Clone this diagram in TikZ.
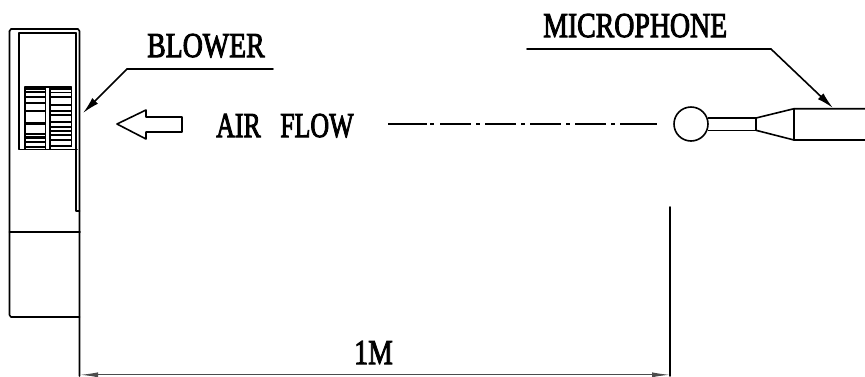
\documentclass[tikz,border=0pt]{standalone}
\usepackage{fontspec}
\setmainfont{Liberation Serif}
\newfontfamily\lblfont[FakeBold=3]{Liberation Serif}
\usetikzlibrary{arrows.meta}
\newcommand{\lbltext}[2][0.795]{\scalebox{#1}[1]{\lblfont #2}}
\tikzset{
  ln/.style={line width=1.6bp,line cap=round,line join=round,draw=black},
  lead/.style={ln,-{Latex[length=17bp,width=8bp]}},
  dim/.style={line width=1.1bp,draw=black!70,{Latex[length=18bp,width=5bp]}-{Latex[length=18bp,width=5bp]}},
  lbl/.style={inner sep=0pt,font=\fontsize{35bp}{35bp}\selectfont},
}
\begin{document}
\begin{tikzpicture}[x=1bp,y=-1bp]
\useasboundingbox (0,0) rectangle (865,376);
% blower
\draw[ln] (9.5,31) -- (9.5,315) -- (11,317) -- (79.5,317);
\draw[ln] (9.5,31) -- (11,29) -- (78,29) -- (79.5,31) -- (79.5,376);
\draw[ln] (76,33) -- (19,33) -- (19,149.5) -- (77,149.5);
\draw[ln] (76,33) -- (76,211) -- (79.5,211);
\draw[ln] (9.5,231.7) -- (80,231.7);
% grille
\draw[ln] (25,87) -- (71.5,87) -- (71.5,146);
\draw[ln] (25,87) -- (25,149);
\draw[ln] (45.5,87) -- (45.5,149);
\draw[ln] (50,87) -- (50,149);
\foreach \y/\w in {88/3,92/1.7,97/2.2,103/1.7,111/2.2,123/1.7,124.5/1.7,134/2.2,137/3,142/1.7,147/1.7}{\draw[line width=\w bp] (25,\y) -- (45.5,\y);}
\foreach \y/\w in {88/3,92.5/1.7,97/2.2,105/1.7,111/2.2,115/1.2,122/1.7,127/1.4,131/1.7,135/1.5,140/1.7,146/1.7}{\draw[line width=\w bp] (50,\y) -- (71.5,\y);}
% flow arrow
\draw[ln] (182,117) -- (146,117) -- (146,110) -- (117,124) -- (146,139) -- (146,132) -- (182,132) -- cycle;
% labels
\node[lbl,anchor=base west] (blower) at (147,57) {\lbltext{BLOWER}};
\node[lbl,anchor=base west] (airflow) at (216,137) {\lbltext[0.74]{AIR\hspace{0.75em}FLOW}};
\node[lbl,anchor=base west] (mic) at (543,37) {\lbltext{MICROPHONE}};
\node[lbl,anchor=base west] (oneM) at (354,364) {\lbltext{1M}};
% leaders
\coordinate (bk) at (273,69); \coordinate (be) at (127,69); \coordinate (bt) at (83,113);
\draw[ln] (bk) -- (be);
\draw[lead] (be) -- (bt);
\coordinate (mk) at (527,49); \coordinate (me) at (771,49); \coordinate (mt) at (833,108);
\draw[ln] (mk) -- (me);
\draw[lead] (me) -- (mt);
% centre line
\draw[line width=1.2bp] (388,124) -- (427,124);
\draw[line width=1.2bp,dash pattern=on 4bp off 5bp] (430,124) -- (437,124);
\draw[line width=1.2bp,dash pattern=on 31bp off 5bp on 4bp off 5bp] (440,124) -- (620,124);
\draw[line width=1.2bp] (620,124) -- (657,124);
% microphone
\node[circle,draw,line width=1.6bp,minimum size=34bp,inner sep=0pt] (ball) at (691,124) {};
\draw[line width=1.2bp] (707.5,118) -- (756,118) (707.5,130.3) -- (756,130.3);
\draw[ln] (756,118) -- (756,130.3);
\draw[ln] (756,118) -- (794,108.7) -- (865,108.7);
\draw[ln] (756,130.3) -- (794,140) -- (865,140);
\draw[ln] (794,108.7) -- (794,140);
% dimension
\draw[ln] (670,207) -- (670,376);
\coordinate (da) at (80,374.8); \coordinate (db) at (670,374.8);
\draw[dim] (da) -- (db);
\end{tikzpicture}
\end{document}
